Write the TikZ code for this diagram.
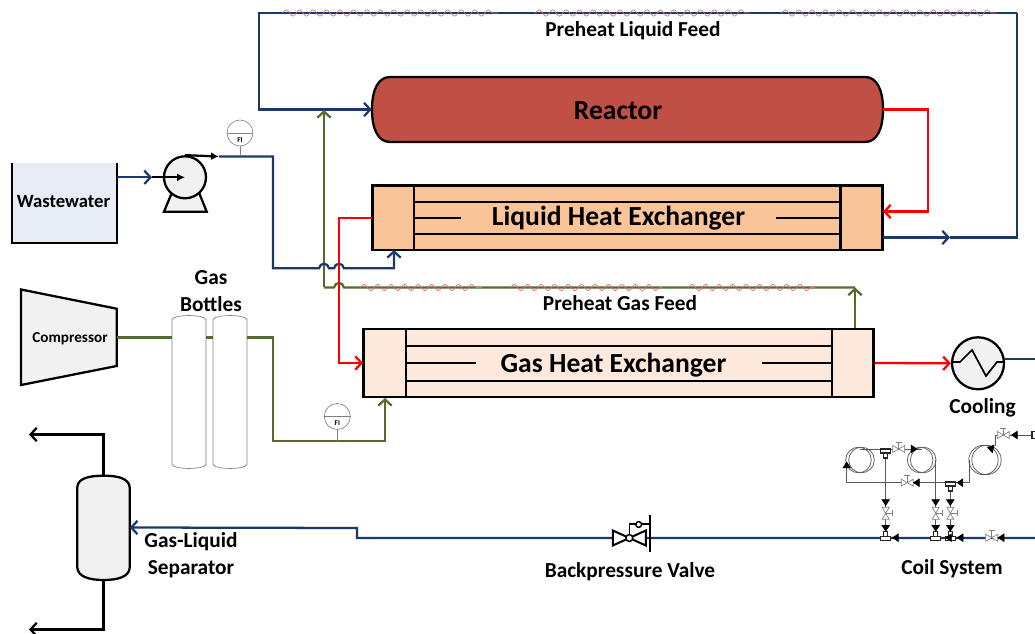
\documentclass[tikz,border=0pt]{standalone}
\usepackage{fontspec}
\setmainfont{Carlito}
\definecolor{mynavy}{RGB}{27,57,104}
\definecolor{myolive}{RGB}{84,106,48}
\definecolor{myreactor}{RGB}{192,80,70}
\definecolor{myliquid}{RGB}{248,196,152}
\definecolor{mygas}{RGB}{253,233,219}
\definecolor{mygrey}{RGB}{241,241,241}
\definecolor{mytank}{RGB}{232,237,245}
\definecolor{mytrace}{RGB}{222,110,110}
\usetikzlibrary{arrows.meta,positioning,calc,decorations.pathmorphing}

\begin{document}
\begin{tikzpicture}[
  x=0.75pt,
  y=-0.75pt,
  font=\bfseries,
  outline/.style={draw=black, line width=1.7pt, line join=miter},
  pipeliquid/.style={draw=mynavy, line width=1.7pt},
  pipegas/.style={draw=myolive, line width=1.7pt},
  pipehot/.style={draw=red, line width=1.7pt},
  pipeblack/.style={draw=black, line width=1.7pt},
  barb/.style={-{Straight Barb[length=4.6pt, width=10pt, line width=1.7pt]}},
  fulltip/.style={-{Triangle[length=5pt, width=6.4pt, black]}},
  hop/.style={to path={.. controls +(1,-6) and +(-1,-6) .. (\tikztotarget)}},
  trace/.style={draw=mytrace, line width=0.5pt, decorate, decoration={snake, segment length=10.1pt, amplitude=2.4pt}},
  thinline/.style={draw=black!65, line width=0.55pt},
  palevalve/.style={draw=black!50, fill=white, line width=0.5pt},
  bigtext/.style={font=\bfseries\fontsize{20.7}{24}\selectfont},
  midtext/.style={font=\bfseries\fontsize{16}{20}\selectfont},
  tinyvalve/.pic={
    \draw[palevalve] (-6,-3.5) -- (6,3.5) -- (6,-3.5) -- (-6,3.5) -- cycle;
    \draw[palevalve] (0,0) -- (0,-7) (-3,-7) -- (3,-7);
  },
  teeup/.pic={
    \draw[draw=black!85, fill=white, line width=0.8pt] (-5,3) rectangle (5,-1) (-2,-1) rectangle (2,-6);
  },
  teedown/.pic={
    \draw[draw=black!85, fill=white, line width=0.8pt] (-5,-3) rectangle (5,1) (-2,1) rectangle (2,6);
  }
]
\useasboundingbox (0,0) rectangle (1035,634);

% ports and bends
\coordinate (topleft) at (259,13);
\coordinate (topright) at (1017,13);
\coordinate (hxhotin) at (883,211.5);
\coordinate (hxliquidout) at (883,237.5);
\coordinate (hxliquidmid) at (950,237.5);
\coordinate (hxhotout) at (372,218);
\coordinate (hxliquidin) at (394,250);
\coordinate (gashotin) at (363,363);
\coordinate (gasin) at (385,398);
\coordinate (gasout) at (855,328);
\coordinate (gastop) at (855,287.5);
\coordinate (pumpout) at (219,156.5);
\coordinate (pumptip) at (185,177.3);
\coordinate (tankout) at (117,177.3);
\coordinate (tankmid) at (152,177.3);
\coordinate (reactorin) at (324,110);
\coordinate (compout) at (117,337.5);
\coordinate (rightend) at (1035,538);
\coordinate (sepin) at (357,528);
\coordinate (sepinb) at (357,538);
\coordinate (gasoutlet) at (29,434.5);
\coordinate (liquidoutlet) at (29,629.5);
\coordinate (bpv) at (629.3,538);

% equipment
\draw[outline, fill=myreactor] (372,109.5) .. controls (372,90) and (378,77) .. (390,77) -- (865,77) .. controls (877,77) and (883,90) .. (883,109.5) .. controls (883,129) and (877,142) .. (865,142) -- (390,142) .. controls (378,142) and (372,129) .. (372,109.5) -- cycle;
\node[minimum width=383.25pt, minimum height=48.75pt, inner sep=0pt] (reactor) at (627.5,109.5) {};
\node[bigtext] (reactorlabel) at (618,111) {Reactor};

\node[outline, fill=myliquid, minimum width=382.5pt, minimum height=48.5pt, inner sep=0pt] (hxliquid) at (627.5,217.8) {};
\node[outline, fill=mygas, minimum width=382.5pt, minimum height=51.5pt, inner sep=0pt] (hxgas) at (618.5,363) {};
\draw[outline] (414,185.5) -- (414,250) (840.5,185.5) -- (840.5,250)
  (414,202) -- (840.5,202) (414,234) -- (840.5,234)
  (414,218) -- (461,218) (776,218) -- (840.5,218);
\draw[outline] (406,328.5) -- (406,397.5) (832,328.5) -- (832,397.5)
  (406,345.7) -- (832,345.7) (406,380.7) -- (832,380.7)
  (406,363) -- (476,363) (762,363) -- (832,363);
\node[bigtext] (hxliquidlabel) at (618.5,218.5) {Liquid Heat Exchanger};
\node[bigtext] (hxgaslabel) at (613.5,365) {Gas Heat Exchanger};

\node[fill=mytank, minimum width=78pt, minimum height=59.5pt, inner sep=0pt] (tank) at (64.5,203) {};
\node[font=\bfseries\fontsize{14}{17}\selectfont] (tanklabel) at (63.5,202) {Wastewater};
\draw[outline] (tank.north west) -- (tank.south west) -- (tank.south east) -- (tank.north east);

\draw[outline, fill=mygrey] (21,289.5) -- (116.7,308.7) -- (116.7,366) -- (21,385) -- cycle;
\node[font=\bfseries\fontsize{11.4}{13}\selectfont] (compressor) at (70,339) {Compressor};

\draw[outline, fill=mygrey] (164,211.7) -- (173,190) -- (198,190) -- (206.7,211.7) -- cycle;
\node[outline, fill=mygrey, circle, minimum size=31.5pt, inner sep=0pt] (pump) at (pumptip) {};

\node[outline, fill=mygrey, circle, minimum size=39pt, inner sep=0pt] (cooler) at (978,363.3) {};
\draw[draw=black, line width=1.3pt] (952,362) -- (960,362) -- (972,350) -- (986,376) -- (997,362) -- (1004,362);
\node[midtext] (coolerlabel) at (982.5,408) {Cooling};

% pipes
\draw[pipeliquid, barb] (topright) -- (topleft) -- (topleft |- reactor.west) -- (reactor.west);
\draw[pipeliquid] (topright) -- (topright |- hxliquidout) -- (hxliquidmid);
\draw[pipeliquid, barb] (hxliquidout) -- (hxliquidmid);
\draw[pipeliquid, barb] (tankout) -- (tankmid);
\draw[pipegas, barb] (gastop -| reactorin) -- (reactorin);
\draw[pipegas] (324,287.5) -- (334,287.5) to[hop] (344,287.5) -- (gastop);
\draw[pipegas, barb] (gasout) -- (gastop);
\draw[pipeliquid, barb] (pumpout) -- (273,156.5) -- (273,268.3) -- (319,268.3) to[hop] (329,268.3) -- (334,268.3) to[hop] (344,268.3) -- (394,268.3) -- (hxliquidin);
\draw[pipehot, barb] (reactor.east) -- (927.7,109.5) -- (927.7,211.5) -- (hxhotin);
\draw[pipehot, barb] (hxhotout) -- (338.7,218) -- (338.7,363) -- (gashotin);
\draw[pipehot, barb] (874.5,363) -- (cooler.west);
\draw[pipeliquid] (1004,358.7) -- (1035,358.7);
\draw[pipeblack, -{Latex[length=6pt, width=6pt]}] (tankmid) -- (pumptip);
\draw[pipeblack, -{Latex[length=6pt, width=6pt]}] (pump.north) -- (pumpout);

\node[draw=black!50, line width=0.5pt, fill=white, minimum width=25pt, minimum height=108pt, inner sep=0pt] (bottlea) at (189,392) {};
\node[draw=black!50, line width=0.5pt, fill=white, minimum width=25pt, minimum height=108pt, inner sep=0pt] (bottleb) at (230,392) {};
\foreach \Valor in {bottlea, bottleb}
  \draw[draw=black!50, fill=white, line width=0.5pt] (\Valor.north west) .. controls +(1,-5.5) and +(-1,-5.5) .. (\Valor.north east) -- (\Valor.south east) .. controls +(-1,5.5) and +(1,5.5) .. (\Valor.south west) -- cycle;
\draw[pipegas] (compout) -- (bottlea.west |- compout) (bottlea.east |- compout) -- (bottleb.west |- compout);
\draw[pipegas, barb] (bottleb.east |- compout) -- (273,337.5) -- (273,441.3) -- (385,441.3) -- (gasin);
\node[midtext, align=center] (bottlelabel) at (211,291) {Gas\\Bottles};

\foreach \Valor/\Cx/\Cy/\Py in {fia/240/133/156.5, fib/337.3/416.5/441.3}{
  \node[circle, draw=black!50, line width=0.5pt, fill=white, minimum size=19.5pt, inner sep=0pt] (\Valor) at (\Cx,\Cy) {};
  \draw[draw=black!50, line width=0.5pt] (\Valor.west) -- (\Valor.east) (\Valor.south) -- (\Cx,\Py);
  \node[font=\bfseries\fontsize{5.5}{6}\selectfont, inner sep=0pt] at (\Cx,\Cy+7) {FI};
}

% heat tracing
\foreach \Valor/\Valori in {282/498, 535/750, 781/997}
  \draw[trace] (\Valor,13) -- (\Valori,13);
\foreach \Valor/\Valori in {360/482, 510/662, 688/815}
  \draw[trace] (\Valor,287.5) -- (\Valori,287.5);

\node[midtext] (liquidfeed) at (633,31) {Preheat Liquid Feed};
\node[midtext] (gasfeed) at (620,303) {Preheat Gas Feed};

% separator
\node[minimum width=39pt, minimum height=59pt, inner sep=0pt] (separator) at (103.5,527.5) {};
\draw[outline, fill=mygrey] (separator.north west) .. controls +(0,-10) and (90,475.7) .. (103.5,475.7) .. controls (117,475.7) and (129.5,478) .. (separator.north east) -- (separator.south east) .. controls +(0,10) and (117,580) .. (103.5,580) .. controls (90,580) and (77.5,577) .. (separator.south west) -- cycle;
\draw[pipeblack, barb] (103.5,475.7) -- (103.5,434.5) -- (gasoutlet);
\draw[pipeblack, barb] (103.5,580) -- (103.5,629.5) -- (liquidoutlet);
\draw[pipeliquid, barb] (rightend) -- (sepinb) -- (sepin) -- (separator.east);
\node[midtext, align=center] (separatorlabel) at (191,555) {Gas-Liquid\\Separator};

% backpressure valve
\draw[draw=black, line width=1.5pt, fill=white] (bpv) ++(-16.5,-7.5) -- ++(33,15) -- ++(0,-15) -- ++(-33,15) -- cycle;
\draw[draw=black, line width=1.1pt] (bpv) -- ++(0,-14) -- ++(21,0);
\draw[draw=black, line width=1.5pt] (650.3,515) -- (650.3,552);
\draw[draw=black, line width=1.1pt, fill=white] (bpv) circle (2.6pt) (638.7,524.5) circle (2.2pt);
\node[midtext] (bpvlabel) at (630,572) {Backpressure Valve};

% coil system
\foreach \Valor in {860, 921.7}{
  \draw[thinline] (\Valor-1.5,460) circle (9.6pt);
  \draw[thinline] (\Valor+1.5,460) circle (9.6pt);
}
\draw[thinline] (983.5,460) circle (11pt);
\draw[thinline] (986.5,460) circle (11pt);
\draw[thinline] (860,449) -- (921.7,449);
\draw[thinline] (846.7,465) -- (846.7,482.7) -- (969,482.7) -- (969,460);
\draw[thinline] (885.7,449) -- (885.7,538);
\draw[thinline] (935.7,460) -- (935.7,538);
\draw[thinline] (950.3,482.7) -- (950.3,538);
\draw[thinline] (995,446) -- (995,435) -- (1032,435);
\draw[draw=black!85, fill=white, line width=0.8pt] (1032,431.5) rectangle (1037,438.5);
\foreach \Valor in {885.7, 935.7, 950.3}{
  \pic[rotate=-90] at (\Valor,513.3) {tinyvalve};
  \pic at (\Valor,537.7) {teeup};
  \draw[thinline, fulltip] (\Valor,499) -- (\Valor,506);
  \draw[thinline, fulltip] (\Valor,524) -- (\Valor,531.7);
}
\pic at (885.7,452) {teedown};
\pic at (950.3,485) {teedown};
\pic at (898.7,449) {tinyvalve};
\pic at (907.3,482.7) {tinyvalve};
\pic at (991.7,537.7) {tinyvalve};
\pic at (1003.3,435) {tinyvalve};
\foreach \Valor in {892, 945, 956.7, 997.7}
  \draw[thinline, fulltip] (\Valor+6.5,537.7) -- (\Valor,537.7);
\foreach \Valor in {913, 956.4}
  \draw[thinline, fulltip] (\Valor+6.5,482.7) -- (\Valor,482.7);
\draw[thinline, fulltip] (1017.5,435) -- (1011,435);
\draw[thinline, fulltip] (911,449) -- (917.5,449);
\draw[thinline, fulltip] (846.7,468) -- (846.7,461.5);
\draw[thinline, fulltip] (994,449) -- (987,447.5);
\node[midtext] (coillabel) at (952,569) {Coil System};
\end{tikzpicture}
\end{document}
